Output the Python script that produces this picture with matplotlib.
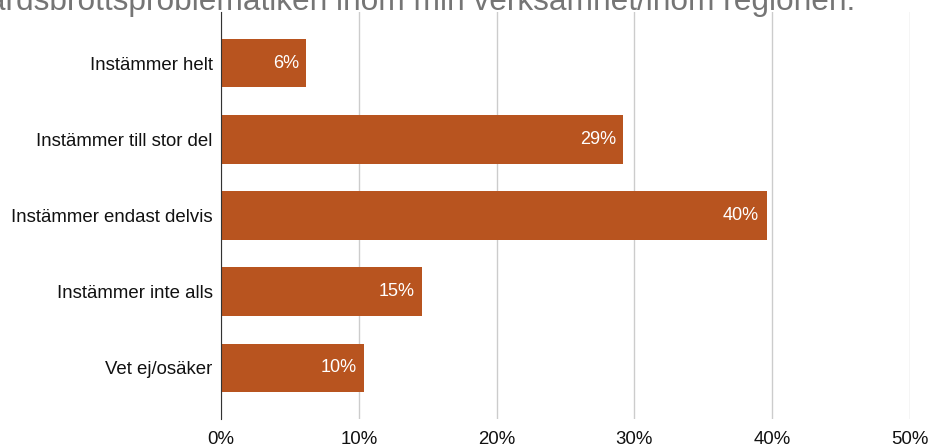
import matplotlib.pyplot as plt

categories = ["Instämmer helt", "Instämmer till stor del", "Instämmer endast delvis",
              "Instämmer inte alls", "Vet ej/osäker"]
values = [6.2, 29.2, 39.6, 14.6, 10.4]
labels = ["6%", "29%", "40%", "15%", "10%"]
xticks = [0, 10, 20, 30, 40, 50]
title = "Jag har god kännedom om välfärdsbrottsproblematiken inom min verksamhet/inom regionen."

plt.rcParams["font.family"] = ["Liberation Sans", "DejaVu Sans"]

fig = plt.figure(figsize=(9.29, 4.47), dpi=100)
ax = fig.add_axes([221 / 929, 1 - 419 / 447, 689 / 929, 407 / 447])

ypos = list(range(len(categories)))
ax.barh(ypos, values, height=0.64, color="#b8541f", zorder=3)
for y, v, lab in zip(ypos, values, labels):
    ax.text(v - 0.55, y, lab, ha="right", va="center", color="white", fontsize=13, zorder=4)

ax.set_xlim(0, 50)
ax.set_ylim(4.67, -0.67)
ax.set_yticks(ypos)
ax.set_yticklabels(categories, fontsize=13.4, color="#111111")
ax.set_xticks(xticks)
ax.set_xticklabels([f"{t}%" for t in xticks], fontsize=13.4, color="#111111")
ax.tick_params(length=0, pad=6)
ax.tick_params(axis="x", pad=9)
ax.grid(axis="x", color="#cccccc", linewidth=1, zorder=0)
for s in ["top", "right", "bottom"]:
    ax.spines[s].set_visible(False)
ax.spines["left"].set_color("#333333")
ax.spines["left"].set_zorder(5)

fig.text(855 / 929, 1 - 10 / 447, title, ha="right", va="baseline",
         fontsize=22.8, color="#757575")

fig.savefig("out.png", dpi=100)
